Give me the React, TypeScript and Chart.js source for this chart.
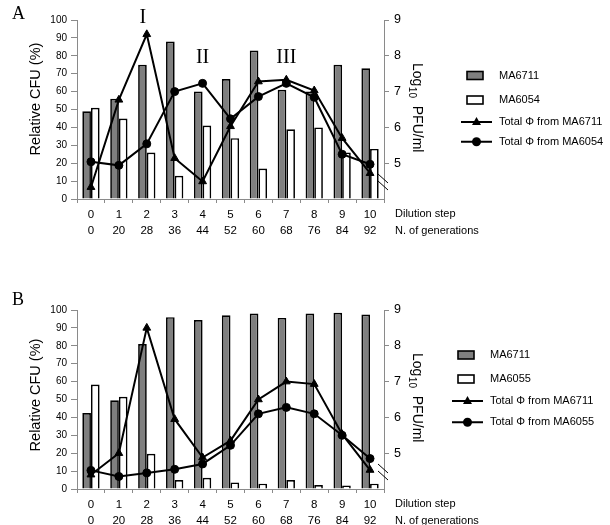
import React, { useEffect, useRef } from "react";
import { Chart, registerables } from "chart.js";
Chart.register(...registerables);

const SANS = '"Liberation Sans", Arial, sans-serif';
const SERIF = '"Liberation Serif", "Times New Roman", serif';

const dilutionSteps = ["0", "1", "2", "3", "4", "5", "6", "7", "8", "9", "10"];
const generations = ["0", "20", "28", "36", "44", "52", "60", "68", "76", "84", "92"];

// Panel A
const aMA6711 = [49, 56, 75, 88, 60, 67, 83, 61, 60, 75, 73];
const aMA6054 = [51, 45, 26, 13, 41, 34, 17, 39, 40, 26, 28];
const aPhi6711 = [4.33, 6.77, 8.6, 5.14, 4.49, 6.03, 7.28, 7.33, 7.03, 5.7, 4.72];
const aPhi6054 = [5.04, 4.94, 5.54, 7.0, 7.23, 6.24, 6.86, 7.23, 6.84, 5.25, 4.97];

// Panel B
const bMA6711 = [42.5, 49.6, 81, 96, 94.4, 97, 98, 95.6, 98, 98.5, 97.5];
const bMA6055 = [58.4, 51.5, 19.7, 5, 6.3, 3.7, 3, 5, 2.2, 2, 3];
const bPhi6711 = [4.4, 5.0, 8.5, 5.95, 4.88, 5.35, 6.5, 7.0, 6.93, 5.53, 4.53];
const bPhi6055 = [4.52, 4.35, 4.45, 4.55, 4.7, 5.22, 6.1, 6.28, 6.1, 5.5, 4.85];

const leftTicksMax = 100;
const rightMin = 4;
const rightMax = 9;

const annotationsA = [
  { text: "I", x: 1.86, y: 9.05 },
  { text: "II", x: 4.0, y: 7.95 },
  { text: "III", x: 7.0, y: 7.95 },
];

type Panel = {
  letter: string;
  letterY: number;
  strain1: string;
  strain2: string;
  bars1: number[];
  bars2: number[];
  phi1: number[];
  phi2: number[];
  legendYs: number[];
  legendX: number;
  leftTitleY: number;
  annotations: { text: string; x: number; y: number }[];
};

const panels: Panel[] = [
  {
    letter: "A",
    letterY: 14,
    strain1: "MA6711",
    strain2: "MA6054",
    bars1: aMA6711,
    bars2: aMA6054,
    phi1: aPhi6711,
    phi2: aPhi6054,
    legendYs: [75.5, 100, 122, 141.7],
    legendX: 467,
    leftTitleY: 99,
    annotations: annotationsA,
  },
  {
    letter: "B",
    letterY: 10.5,
    strain1: "MA6711",
    strain2: "MA6055",
    bars1: bMA6711,
    bars2: bMA6055,
    phi1: bPhi6711,
    phi2: bPhi6055,
    legendYs: [65, 89, 111, 132.3],
    legendX: 458,
    leftTitleY: 105,
    annotations: [],
  },
];

const decorPlugin = {
  id: "decor",
  afterDraw(chart: any) {
    const o = chart.options.plugins.decor as Panel;
    if (!o) return;
    const ctx = chart.ctx as CanvasRenderingContext2D;
    const area = chart.chartArea;
    const xs = chart.scales.x;
    const y1 = chart.scales.y1;
    ctx.save();
    // panel letter
    ctx.fillStyle = "#000";
    ctx.font = `18px ${SERIF}`;
    ctx.textBaseline = "middle";
    ctx.textAlign = "left";
    ctx.fillText(o.letter, 12, o.letterY);

    // roman annotations
    ctx.font = `20px ${SERIF}`;
    ctx.textAlign = "center";
    for (const a of o.annotations) {
      ctx.fillText(a.text, xs.getPixelForValue(a.x), y1.getPixelForValue(a.y));
    }

    // left axis title
    ctx.save();
    ctx.translate(36, o.leftTitleY);
    ctx.rotate(-Math.PI / 2);
    ctx.font = `14.5px ${SANS}`;
    ctx.textAlign = "center";
    ctx.textBaseline = "middle";
    ctx.fillText("Relative CFU (%)", 0, 0);
    ctx.restore();

    // right axis title: Log10 PFU/ml
    ctx.save();
    ctx.translate(413, area.top + 43);
    ctx.rotate(Math.PI / 2);
    ctx.textAlign = "left";
    ctx.textBaseline = "alphabetic";
    ctx.font = `14px ${SANS}`;
    ctx.fillText("Log", 0, 0);
    let w = ctx.measureText("Log").width;
    ctx.font = `10px ${SANS}`;
    ctx.fillText("10", w + 0.5, 4);
    w += ctx.measureText("10").width + 0.5;
    ctx.font = `14px ${SANS}`;
    ctx.fillText("  PFU/ml", w, 0);
    ctx.restore();

    // axis break marks
    ctx.strokeStyle = "#000";
    ctx.lineWidth = 1;
    const bx = area.right;
    const by = area.bottom;
    ctx.beginPath();
    ctx.moveTo(bx - 6, by - 25);
    ctx.lineTo(bx + 4, by - 16);
    ctx.moveTo(bx - 6, by - 18);
    ctx.lineTo(bx + 4, by - 9);
    ctx.stroke();

    // x row captions
    ctx.font = `11px ${SANS}`;
    ctx.textAlign = "left";
    ctx.textBaseline = "middle";
    ctx.fillStyle = "#000";
    ctx.fillText("Dilution step", 395, area.bottom + 15);
    ctx.fillText("N. of generations", 395, area.bottom + 31.5);

    // legend
    const lx = o.legendX;
    const tx = lx + 32;
    const [g1, g2, g3, g4] = o.legendYs;
    ctx.lineWidth = 1.6;
    ctx.strokeStyle = "#000";
    ctx.fillStyle = "#7f7f7f";
    ctx.fillRect(lx, g1 - 4, 16, 8);
    ctx.strokeRect(lx, g1 - 4, 16, 8);
    ctx.fillStyle = "#fff";
    ctx.fillRect(lx, g2 - 4, 16, 8);
    ctx.strokeRect(lx, g2 - 4, 16, 8);
    ctx.lineWidth = 2;
    ctx.beginPath();
    ctx.moveTo(lx - 6, g3);
    ctx.lineTo(lx + 25, g3);
    ctx.moveTo(lx - 6, g4);
    ctx.lineTo(lx + 25, g4);
    ctx.stroke();
    ctx.fillStyle = "#000";
    const cx = lx + 9.5;
    ctx.beginPath();
    ctx.moveTo(cx, g3 - 5);
    ctx.lineTo(cx + 4.5, g3 + 3);
    ctx.lineTo(cx - 4.5, g3 + 3);
    ctx.closePath();
    ctx.fill();
    ctx.beginPath();
    ctx.arc(cx, g4, 4.5, 0, Math.PI * 2);
    ctx.fill();
    ctx.font = `11px ${SANS}`;
    ctx.fillText(o.strain1, tx, g1);
    ctx.fillText(o.strain2, tx, g2);
    ctx.fillText("Total \u03A6 from " + o.strain1, tx, g3);
    ctx.fillText("Total \u03A6 from " + o.strain2, tx, g4);
    ctx.restore();
  },
};

function makeConfig(p: Panel): any {
  const axisColor = "#8a8a8a";
  return {
    type: "bar",
    data: {
      labels: dilutionSteps.map((s, i) => [s, generations[i]]),
      datasets: [
        {
          type: "line",
          label: "Total \u03A6 from " + p.strain1,
          data: p.phi1,
          yAxisID: "y1",
          borderColor: "#000",
          borderWidth: 2,
          pointStyle: "triangle",
          pointRadius: 4.5,
          pointBackgroundColor: "#000",
          pointBorderColor: "#000",
          pointBorderWidth: 1,
          tension: 0,
          order: 1,
        },
        {
          type: "line",
          label: "Total \u03A6 from " + p.strain2,
          data: p.phi2,
          yAxisID: "y1",
          borderColor: "#000",
          borderWidth: 2,
          pointStyle: "circle",
          pointRadius: 4,
          pointBackgroundColor: "#000",
          pointBorderColor: "#000",
          pointBorderWidth: 1,
          tension: 0,
          order: 1,
        },
        {
          type: "bar",
          label: p.strain1,
          data: p.bars1,
          yAxisID: "y",
          backgroundColor: "#7f7f7f",
          borderColor: "#000",
          borderWidth: 1.7,
          categoryPercentage: 0.62,
          barPercentage: 1,
          order: 2,
        },
        {
          type: "bar",
          label: p.strain2,
          data: p.bars2,
          yAxisID: "y",
          backgroundColor: "#ffffff",
          borderColor: "#000",
          borderWidth: 1.7,
          categoryPercentage: 0.62,
          barPercentage: 1,
          order: 2,
        },
      ],
    },
    options: {
      animation: false,
      responsive: false,
      maintainAspectRatio: false,
      layout: { padding: { top: 20, left: 0, right: 0, bottom: 0 } },
      plugins: {
        legend: { display: false },
        tooltip: { enabled: false },
        decor: p,
      },
      scales: {
        x: {
          offset: true,
          grid: { drawOnChartArea: false, offset: true, tickLength: 4, color: axisColor },
          border: { color: axisColor },
          ticks: {
            font: { family: SANS, size: 11.5, lineHeight: 1.45 },
            color: "#000",
            padding: 3,
            maxRotation: 0,
            autoSkip: false,
          },
          afterFit: (s: any) => {
            s.height = 56;
          },
        },
        y: {
          position: "left",
          min: 0,
          max: leftTicksMax,
          grid: { drawOnChartArea: false, tickLength: 6, color: axisColor },
          border: { color: axisColor },
          ticks: {
            stepSize: 10,
            font: { family: SANS, size: 10 },
            color: "#000",
            padding: 4,
          },
          afterFit: (s: any) => {
            s.width = 77;
          },
        },
        y1: {
          position: "right",
          min: rightMin,
          max: rightMax,
          grid: {
            drawOnChartArea: false,
            tickLength: 5,
            color: (c: any) => (c.tick && c.tick.value === rightMin ? "rgba(0,0,0,0)" : axisColor),
          },
          border: { color: axisColor },
          ticks: {
            stepSize: 1,
            font: { family: SANS, size: 12.5 },
            color: "#000",
            padding: 5,
            callback: (v: any) => (v === rightMin ? "" : String(v)),
          },
          afterFit: (s: any) => {
            s.width = 226;
          },
        },
      },
    },
    plugins: [decorPlugin],
  };
}

function PanelChart({ panel, top }: { panel: Panel; top: number }) {
  const ref = useRef<HTMLCanvasElement | null>(null);
  useEffect(() => {
    if (!ref.current) return;
    const chart = new Chart(ref.current, makeConfig(panel));
    return () => chart.destroy();
  }, [panel]);
  return (
    <canvas
      ref={ref}
      width={610}
      height={255}
      style={{ position: "absolute", left: 0, top, width: 610, height: 255 }}
    />
  );
}

export default function App() {
  return (
    <div
      style={{
        position: "fixed",
        left: 0,
        top: 0,
        width: 610,
        height: 525,
        background: "#fff",
        overflow: "hidden",
      }}
    >
      <PanelChart panel={panels[0]} top={0} />
      <PanelChart panel={panels[1]} top={290} />
    </div>
  );
}
